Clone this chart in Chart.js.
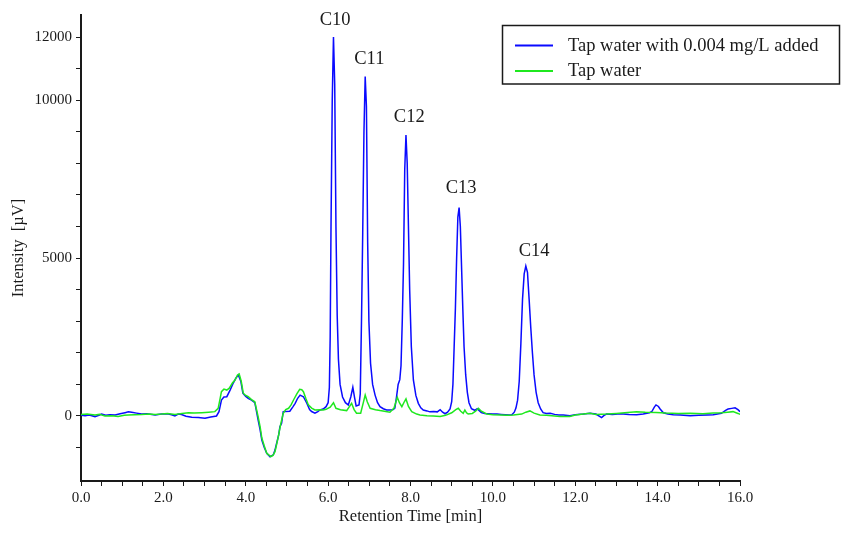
<!DOCTYPE html>
<html>
<head>
<meta charset="utf-8">
<script src="https://cdn.jsdelivr.net/npm/chart.js@4/dist/chart.umd.min.js"></script>
<style>
  html, body { margin: 0; padding: 0; background: #fff; }
  #wrap { width: 841px; height: 535px; position: relative; }
</style>
</head>
<body>
<div id="wrap"><canvas id="chart"></canvas></div>
<script>
// chromatogram (min / µV)
const spikedTimes = [
  0.00, 0.10, 0.20, 0.34, 0.45, 0.50, 0.60, 0.70, 0.83, 0.95, 1.07, 1.15, 1.23, 1.35, 1.47, 1.60, 1.80, 1.95,
  2.12, 2.20, 2.28, 2.36, 2.44, 2.55, 2.69, 2.85, 3.01, 3.15, 3.29, 3.35, 3.41, 3.47, 3.54, 3.62, 3.70, 3.76,
  3.82, 3.88, 3.93, 4.00, 4.06, 4.14, 4.22, 4.26, 4.30, 4.35, 4.39, 4.45, 4.51, 4.59, 4.67, 4.71, 4.75, 4.80,
  4.83, 4.87, 4.91, 4.95, 5.07, 5.14, 5.20, 5.26, 5.32, 5.40, 5.48, 5.55, 5.60, 5.68, 5.75, 5.80, 5.88, 5.95,
  6.00, 6.03, 6.05, 6.07, 6.10, 6.13, 6.16, 6.19, 6.22, 6.25, 6.29, 6.35, 6.42, 6.49, 6.55, 6.60, 6.64, 6.68,
  6.75, 6.78, 6.81, 6.84, 6.87, 6.90, 6.93, 6.96, 6.99, 7.03, 7.08, 7.14, 7.20, 7.26, 7.34, 7.42, 7.50, 7.58,
  7.62, 7.66, 7.70, 7.74, 7.77, 7.80, 7.83, 7.86, 7.89, 7.92, 7.95, 7.98, 8.02, 8.07, 8.13, 8.19, 8.25, 8.31,
  8.40, 8.47, 8.56, 8.65, 8.72, 8.78, 8.84, 8.90, 8.96, 9.00, 9.03, 9.06, 9.09, 9.12, 9.15, 9.18, 9.21, 9.24,
  9.27, 9.30, 9.34, 9.38, 9.42, 9.48, 9.56, 9.62, 9.67, 9.72, 9.80, 9.90, 10.00, 10.10, 10.20, 10.30, 10.40, 10.46,
  10.52, 10.56, 10.60, 10.64, 10.68, 10.72, 10.76, 10.80, 10.84, 10.88, 10.92, 10.96, 11.00, 11.05, 11.10, 11.16, 11.22, 11.30,
  11.39, 11.50, 11.60, 11.71, 11.87, 12.00, 12.20, 12.36, 12.50, 12.64, 12.70, 12.76, 12.90, 13.10, 13.30, 13.49, 13.65, 13.80,
  13.86, 13.92, 13.96, 14.02, 14.06, 14.14, 14.25, 14.38, 14.55, 14.79, 15.00, 15.20, 15.35, 15.55, 15.65, 15.71, 15.80, 15.88,
  15.95, 16.00
];
const spikedValues = [
  20, 10, 30, -20, 30, 60, 20, 40, 30, 70, 105, 130, 115, 90, 60, 70, 30, 60,
  60, 40, 0, 60, 45, -10, -40, -50, -75, -30, 0, 137, 506, 600, 610, 820, 1050, 1200,
  1300, 1100, 720, 620, 560, 500, 420, 150, -127, -450, -760, -1000, -1180, -1290, -1230, -1080, -865, -600,
  -340, -230, 136, 140, 150, 280, 400, 560, 660, 610, 410, 200, 140, 90, 140, 190, 220, 295,
  420, 900, 2500, 6000, 10000, 12000, 10500, 6000, 3200, 1800, 1000, 600, 420, 350, 600, 910, 600, 316,
  350, 700, 3000, 5800, 9000, 10750, 9800, 5500, 3000, 1670, 1000, 660, 420, 295, 230, 190, 190, 200,
  250, 600, 1000, 1150, 1600, 3000, 4800, 7800, 8900, 8000, 6000, 4000, 2200, 1140, 650, 400, 260, 190,
  160, 130, 140, 130, 200, 120, 70, 120, 220, 450, 1000, 2200, 3400, 5000, 6300, 6600, 6000, 4700,
  3400, 2200, 1300, 750, 420, 230, 180, 230, 170, 110, 80, 70, 60, 60, 50, 40, 30, 40,
  120, 250, 500, 1100, 2300, 3700, 4500, 4750, 4550, 3700, 2800, 2000, 1300, 750, 420, 220, 105, 80,
  85, 50, 30, 32, 10, 40, 60, 85, 60, -50, 20, 60, 50, 70, 50, 40, 60, 100,
  140, 280, 350, 300, 220, 100, 60, 40, 30, 10, 20, 30, 40, 85, 180, 220, 240, 260,
  200, 137
];

const tapTimes = [
  0.00, 0.15, 0.34, 0.45, 0.58, 0.75, 0.90, 1.05, 1.15, 1.30, 1.47, 1.65, 1.80, 1.96, 2.10, 2.28, 2.45, 2.61,
  2.75, 2.93, 3.10, 3.25, 3.33, 3.37, 3.41, 3.47, 3.54, 3.60, 3.68, 3.74, 3.80, 3.84, 3.89, 3.94, 4.00, 4.06,
  4.14, 4.22, 4.30, 4.35, 4.39, 4.45, 4.51, 4.61, 4.66, 4.71, 4.75, 4.79, 4.85, 4.91, 4.97, 5.04, 5.10, 5.16,
  5.24, 5.31, 5.36, 5.40, 5.46, 5.52, 5.60, 5.68, 5.80, 5.88, 5.95, 6.05, 6.13, 6.19, 6.30, 6.45, 6.57, 6.63,
  6.69, 6.79, 6.85, 6.90, 6.95, 7.02, 7.15, 7.26, 7.40, 7.50, 7.60, 7.68, 7.73, 7.79, 7.85, 7.89, 7.95, 8.03,
  8.15, 8.23, 8.40, 8.55, 8.72, 8.85, 9.00, 9.10, 9.16, 9.22, 9.28, 9.32, 9.36, 9.40, 9.50, 9.58, 9.65, 9.72,
  9.85, 10.00, 10.20, 10.35, 10.50, 10.70, 10.80, 10.90, 11.00, 11.14, 11.30, 11.63, 11.87, 12.00, 12.20, 12.36, 12.50, 12.76,
  13.00, 13.20, 13.49, 13.70, 13.96, 14.20, 14.50, 14.79, 15.10, 15.35, 15.55, 15.70, 15.83, 15.95, 16.00
];
const tapValues = [
  45, 60, 30, 50, 0, 10, -20, 20, 30, 40, 45, 60, 50, 60, 80, 45, 80, 105,
  90, 105, 120, 137, 240, 500, 770, 850, 820, 880, 1050, 1140, 1300, 1330, 1100, 720, 650, 610,
  520, 450, -20, -350, -700, -950, -1180, -1290, -1250, -1130, -900, -655, -250, 85, 200, 243, 350, 506,
  700, 845, 830, 770, 550, 350, 250, 190, 200, 190, 210, 280, 420, 243, 200, 170, 400, 200,
  85, 85, 400, 660, 450, 243, 200, 170, 140, 117, 250, 590, 420, 295, 450, 540, 300, 137,
  60, 32, 10, 0, -20, 20, 100, 200, 243, 150, 85, 190, 100, 63, 80, 150, 243, 150,
  63, 40, 30, 20, 32, 60, 120, 160, 90, 32, 20, -20, -20, 30, 60, 85, 50, 60,
  80, 100, 137, 120, 110, 90, 80, 85, 70, 90, 100, 120, 137, 80, 50
];

const seriesNames = ['Tap water with 0.004 mg/L added', 'Tap water'];
const seriesColors = ['#0a0aff', '#1fe81f'];

// peak names and where their labels sit (min, µV)
const peakNames = ['C10', 'C11', 'C12', 'C13', 'C14'];
const peakLabelTimes = [6.17, 7.00, 7.97, 9.23, 11.00];
const peakLabelValues = [12550, 11300, 9460, 7230, 5220];

// axis ticks
const xLabelValues = [0, 2, 4, 6, 8, 10, 12, 14, 16];
const xLabelTexts = ['0.0', '2.0', '4.0', '6.0', '8.0', '10.0', '12.0', '14.0', '16.0'];
const xMinorStep = 0.5;
const yLabelValues = [0, 5000, 10000, 12000];
const yLabelTexts = ['0', '5000', '10000', '12000'];
const yMinorStep = 1000;

const serif = "'Liberation Serif', 'Times New Roman', serif";
const ink = '#1a1a1a';

function toPoints(xs, ys) {
  return xs.map((x, i) => ({ x, y: ys[i] }));
}

function stepTicks(min, max, step) {
  const out = [];
  for (let v = min; v <= max + 1e-9; v += step) out.push({ value: Math.round(v * 1000) / 1000 });
  return out;
}

// peak names + boxed legend, drawn on top of the plot
const overlay = {
  id: 'overlay',
  afterDatasetsDraw(chart) {
    const { ctx, scales: { x, y } } = chart;
    ctx.save();
    ctx.fillStyle = ink;
    ctx.font = '18.5px ' + serif;
    ctx.textAlign = 'center';
    ctx.textBaseline = 'middle';
    peakNames.forEach((name, i) => {
      ctx.fillText(name, x.getPixelForValue(peakLabelTimes[i]), y.getPixelForValue(peakLabelValues[i]));
    });

    // legend box
    ctx.strokeStyle = ink;
    ctx.lineWidth = 1.5;
    ctx.strokeRect(502.5, 25.5, 337, 58.5);
    ctx.textAlign = 'left';
    seriesNames.forEach((name, i) => {
      const ly = 45.5 + i * 25.5;
      ctx.strokeStyle = seriesColors[i];
      ctx.lineWidth = 2;
      ctx.beginPath();
      ctx.moveTo(515, ly);
      ctx.lineTo(553, ly);
      ctx.stroke();
      ctx.fillStyle = ink;
      ctx.fillText(name, 568, ly + 0.5);
    });
    ctx.restore();
  }
};

new Chart(document.getElementById('chart'), {
  type: 'line',
  data: {
    datasets: [
      {
        label: seriesNames[0],
        data: toPoints(spikedTimes, spikedValues),
        borderColor: seriesColors[0],
        borderWidth: 1.5,
        pointRadius: 0,
        tension: 0,
        order: 1
      },
      {
        label: seriesNames[1],
        data: toPoints(tapTimes, tapValues),
        borderColor: seriesColors[1],
        borderWidth: 1.5,
        pointRadius: 0,
        tension: 0,
        order: 0
      }
    ]
  },
  options: {
    responsive: true,
    maintainAspectRatio: false,
    animation: false,
    layout: { padding: { top: 15, right: 101, left: 0, bottom: 0 } },
    plugins: {
      legend: { display: false },
      tooltip: { enabled: false }
    },
    scales: {
      x: {
        type: 'linear',
        min: 0,
        max: 16,
        afterBuildTicks: s => { s.ticks = stepTicks(0, 16, xMinorStep); },
        afterFit: s => { s.height = 54; },
        border: { display: true, color: ink, width: 2 },
        grid: { display: true, drawOnChartArea: false, drawTicks: true, tickLength: 5, tickColor: ink, tickWidth: 1 },
        ticks: {
          autoSkip: false,
          maxRotation: 0,
          padding: 3,
          color: ink,
          font: { family: serif, size: 15 },
          callback: v => {
            const i = xLabelValues.indexOf(v);
            return i >= 0 ? xLabelTexts[i] : '';
          }
        },
        title: {
          display: true,
          text: 'Retention Time [min]',
          color: ink,
          font: { family: serif, size: 16.5 },
          padding: { top: 0, bottom: 8 }
        }
      },
      y: {
        type: 'linear',
        min: -2060,
        max: 12700,
        afterBuildTicks: s => { s.ticks = stepTicks(-1000, 12000, yMinorStep); },
        afterFit: s => { s.width = 81; },
        border: { display: true, color: ink, width: 2 },
        grid: { display: true, drawOnChartArea: false, drawTicks: true, tickLength: 5, tickColor: ink, tickWidth: 1 },
        ticks: {
          autoSkip: false,
          padding: 4,
          color: ink,
          font: { family: serif, size: 15 },
          callback: v => {
            const i = yLabelValues.indexOf(v);
            return i >= 0 ? yLabelTexts[i] : '';
          }
        },
        title: {
          display: true,
          text: 'Intensity  [µV]',
          color: ink,
          font: { family: serif, size: 16.5 },
          padding: { top: 9, bottom: 0 }
        }
      }
    }
  },
  plugins: [overlay]
});
</script>
</body>
</html>
